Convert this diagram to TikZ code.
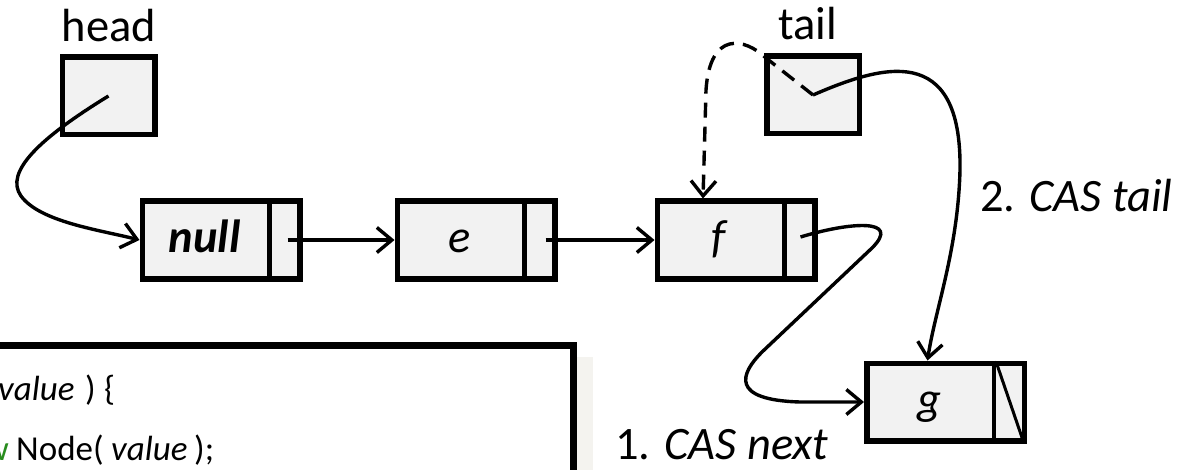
\documentclass[tikz,border=0pt]{standalone}
\usepackage{fontspec}
\setmainfont{Carlito}
\usetikzlibrary{arrows.meta}
\definecolor{boxfill}{RGB}{242,242,242}
\definecolor{codegreen}{RGB}{40,140,30}
\definecolor{panelgray}{RGB}{244,243,239}
\begin{document}
\begin{tikzpicture}[x=1pt,y=-1pt,
  listbox/.style={draw, line width=5.5pt, fill=boxfill, minimum width=157.5pt, minimum height=77.5pt, inner sep=0pt},
  refbox/.style={draw, line width=5.5pt, fill=boxfill, minimum width=92.5pt, minimum height=77.5pt, inner sep=0pt},
  lbl/.style={font=\fontsize{46.5}{54}\selectfont, inner sep=0pt},
  ptr/.style={line width=3.4pt, -{Straight Barb[length=15pt,width=25pt]}},
  divider/.style={line width=4.5pt},
  codetext/.style={font=\fontsize{35}{42}\selectfont, inner sep=0pt, anchor=base west}]

\useasboundingbox (0,0) rectangle (1177,470);

% code panel (partly outside the picture)
\fill[panelgray] (577,357) rectangle (593,470);
\begin{scope}
  \clip (0,0) rectangle (1177,470);
  \draw[line width=7pt, fill=white] (-20,345.5) rectangle (573.5,500);
  \node[codetext] (code1a) at (-2,400) {\textit{value}};
  \node[codetext] (code1b) at (85,400) {)};
  \node[codetext] (code1c) at (104,400) {\{};
  \node[codetext, anchor=base east] (code2a) at (9,460) {\textcolor{codegreen}{w}};
  \node[codetext] (code2b) at (16,460) {Node(};
  \node[codetext] (code2c) at (111,460) {\textit{value}};
  \node[codetext] (code2d) at (194,460) {);};
\end{scope}

% reference boxes
\node[refbox] (headb) at (108.5,96) {};
\node[refbox] (tailb) at (813,95) {};
\node[lbl, anchor=base] (headlbl) at (109,42) {head};
\node[lbl, anchor=base] (taillbl) at (808,40) {tail};

% list nodes
\node[listbox] (nullb) at (221,240) {};
\node[listbox] (eb) at (476,240) {};
\node[listbox] (fb) at (736,240) {};
\node[listbox] (gb) at (945.5,402) {};

\foreach \n in {nullb,eb,fb,gb}{
  \draw[divider] ([xshift=-33pt]\n.north east) -- ([xshift=-33pt]\n.south east);
}
\draw[line width=3pt] ([xshift=-30pt,yshift=-4pt]gb.north east) -- ([xshift=-4pt,yshift=3pt]gb.south east);

\node[lbl, anchor=base] (nulltxt) at ([xshift=-16.5pt,yshift=-12pt]nullb.center) {\textbf{\textit{null}}};
\node[lbl, anchor=base] (etxt) at ([xshift=-16.5pt,yshift=-12pt]eb.center) {\textit{e}};
\node[lbl, anchor=base] (ftxt) at ([xshift=-16.5pt,yshift=-12pt]fb.center) {\textit{f}};
\node[lbl, anchor=base] (gtxt) at ([xshift=-16.5pt,yshift=-12pt]gb.center) {\textit{g}};

% connectors
\draw[ptr] (headb.center) .. controls (40,138) and (4,172) .. (21,196)
  .. controls (40,222) and (100,230) .. (nullb.west);
\draw[ptr] ([xshift=-15pt]nullb.east) -- (eb.west);
\draw[ptr] ([xshift=-12pt]eb.east) -- (fb.west);
\draw[ptr] ([xshift=-17pt,yshift=3pt]fb.east) .. controls (850,222) and (902,218) .. (872,248)
  -- (762,352) .. controls (740,374) and (730,400) .. (800,402) -- (gb.west);
\draw[ptr] (tailb.center) .. controls (880,66) and (962,40) .. (960,170)
  .. controls (958,250) and (935,310) .. ([xshift=-18pt]gb.north);
\draw[ptr, dash pattern=on 15pt off 9pt] (tailb.center) -- (766,58)
  .. controls (745,38) and (710,30) .. (706,90) -- ([xshift=-33pt]fb.north);

\node[lbl, anchor=base west] (cas2) at (980,212) {2. \textit{CAS tail}};
\node[lbl, anchor=base west] (cas1) at (615,459) {1. \textit{CAS next}};
\end{tikzpicture}
\end{document}
